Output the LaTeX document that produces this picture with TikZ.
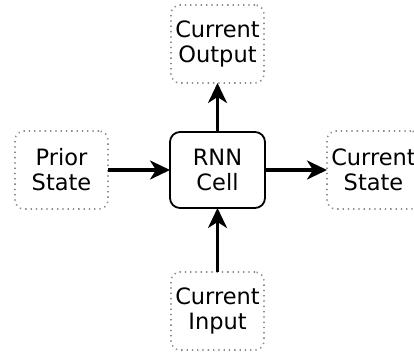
\documentclass[tikz,border=0pt]{standalone}
\usepackage{fontspec}
\setmainfont{DejaVu Sans}
\usetikzlibrary{positioning, arrows.meta}

\begin{document}
\begin{tikzpicture}[
                x=1pt, y=1pt,
                font=\fontsize{22.5}{25}\selectfont, % 字体大小
                cellbox/.style={
                    draw, % 实线边框
                    rounded corners=10pt, % 圆角
                    line width=1.8pt,
                    minimum width=95pt, minimum height=76pt,
                    align=center, inner sep=0, outer sep=0
                },
                databox/.style={
                    draw=gray!90, % 虚点边框
                    dash pattern=on 1.3pt off 4pt,
                    rounded corners=9pt,
                    line width=1.6pt,
                    minimum width=93pt, minimum height=78pt,
                    align=center, inner sep=0, outer sep=0
                },
                flow/.style={
                    line width=3.2pt,
                    -{Stealth[length=20pt, width=19pt, inset=6pt]}
                }
            ]
            \useasboundingbox (0,0) rectangle (414,-354);

            % 中间的 RNN 单元
            \node[cellbox] (cell) at (217.5,-170) {RNN\\Cell};

            % 四周的输入输出
            \node[databox, left = 62pt of cell] (prior) {Prior\\State};
            \node[databox, right = 62pt of cell] (state) {Current\\State};
            \node[databox, above = 49pt of cell] (output) {Current\\Output};
            \node[databox, below = 64pt of cell] (input) {Current\\Input};

            % 箭头
            \draw[flow] (prior) -- (cell);
            \draw[flow] (cell) -- (state);
            \draw[flow] (cell) -- (output);
            \draw[flow] (input) -- (cell);
            \end{tikzpicture}
\end{document}
